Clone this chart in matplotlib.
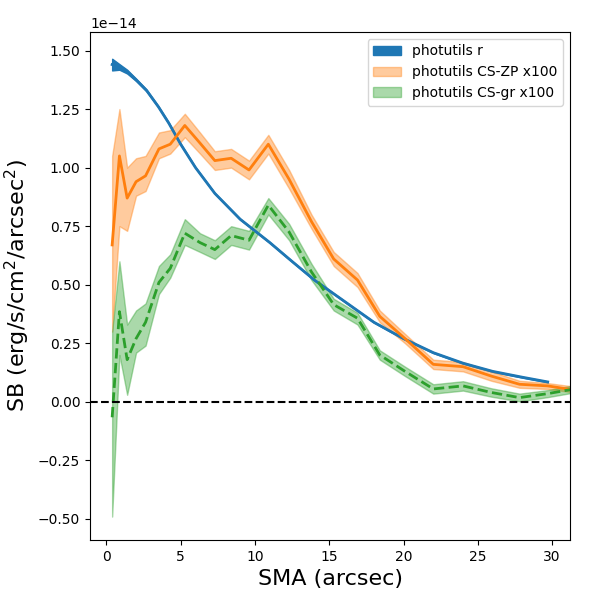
import numpy as np
import matplotlib.pyplot as plt

sma = np.array([0.39, 0.88, 1.4, 2.0, 2.64, 3.54, 4.3, 5.28, 6.3, 7.3, 8.4, 9.6, 10.9,
                12.3, 13.8, 15.3, 16.9, 18.4, 20.1, 22.0, 24.0, 25.9, 27.8, 29.7, 31.5])
zp = np.array([0.67, 1.05, 0.87, 0.94, 0.965, 1.08, 1.10, 1.18, 1.105, 1.03, 1.04, 0.99, 1.10,
               0.95, 0.77, 0.61, 0.52, 0.365, 0.27, 0.16, 0.15, 0.11, 0.075, 0.068, 0.05])
zp_lo = np.array([0.30, 0.75, 0.73, 0.88, 0.90, 1.04, 1.06, 1.13, 1.06, 0.99, 1.00, 0.95, 1.06,
                  0.91, 0.74, 0.58, 0.49, 0.34, 0.25, 0.14, 0.13, 0.09, 0.06, 0.055, 0.04])
zp_hi = np.array([1.05, 1.25, 1.00, 1.04, 1.05, 1.15, 1.16, 1.23, 1.15, 1.07, 1.08, 1.03, 1.14,
                  0.99, 0.80, 0.64, 0.55, 0.39, 0.29, 0.18, 0.17, 0.13, 0.09, 0.08, 0.065])
gr = np.array([-0.066, 0.385, 0.18, 0.27, 0.34, 0.51, 0.57, 0.72, 0.68, 0.65, 0.71, 0.69, 0.84,
               0.725, 0.555, 0.415, 0.357, 0.20, 0.13, 0.055, 0.068, 0.04, 0.018, 0.035, 0.055])
gr_lo = np.array([-0.49, 0.20, 0.03, 0.21, 0.24, 0.46, 0.53, 0.67, 0.64, 0.61, 0.67, 0.65, 0.80,
                  0.69, 0.52, 0.39, 0.33, 0.18, 0.11, 0.035, 0.048, 0.022, 0.002, 0.02, 0.04])
gr_hi = np.array([0.30, 0.60, 0.33, 0.39, 0.42, 0.58, 0.63, 0.78, 0.72, 0.69, 0.75, 0.73, 0.87,
                  0.76, 0.59, 0.44, 0.38, 0.22, 0.15, 0.075, 0.088, 0.058, 0.035, 0.05, 0.07])

r_sma = np.array([0.39, 0.88, 1.4, 2.0, 2.7, 3.5, 4.2, 5.0, 6.0, 7.3, 9.0, 11.0, 12.3, 14.0, 16.0,
                  18.0, 20.0, 22.0, 24.0, 26.0, 28.0, 29.7])
r = np.array([1.44, 1.43, 1.41, 1.375, 1.33, 1.26, 1.19, 1.10, 1.00, 0.89, 0.78, 0.68, 0.61, 0.52,
              0.43, 0.34, 0.27, 0.21, 0.165, 0.13, 0.105, 0.085])
r_err = np.array([0.025, 0.012, 0.008, 0.005, 0.004, 0.003, 0.003, 0.003, 0.002, 0.002, 0.002,
                  0.002, 0.002, 0.002, 0.002, 0.002, 0.002, 0.002, 0.002, 0.002, 0.002, 0.002])

s = 1e-14
fig, ax = plt.subplots(1, 1, figsize=(6, 6))
ax.fill_between(r_sma, (r - r_err)*s, (r + r_err)*s, color='C0', alpha=1, label='photutils r')
ax.plot(r_sma, r*s, color='C0', lw=2)
ax.fill_between(sma, zp_lo*s, zp_hi*s, color='C1', alpha=0.4, label='photutils CS-ZP x100')
ax.plot(sma, zp*s, color='C1', lw=2)
ax.fill_between(sma, gr_lo*s, gr_hi*s, color='C2', alpha=0.4, label='photutils CS-gr x100')
ax.plot(sma, gr*s, color='C2', lw=2, ls='--')
ax.axhline(0, color='k', ls='--')
ax.set_xlim(-1.1, 31.2)
ax.set_ylim(-0.59e-14, 1.58e-14)
ax.set_xlabel('SMA (arcsec)', fontsize=16)
ax.set_ylabel('SB (erg/s/cm$^2$/arcsec$^2$)', fontsize=16)
ax.legend(loc='upper right')
plt.subplots_adjust(left=0.15, right=0.95, top=0.947, bottom=0.1)
fig.savefig('out.png', dpi=100)
